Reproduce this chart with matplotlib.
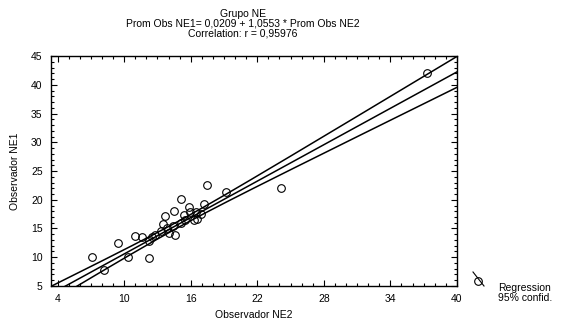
import numpy as np
import matplotlib
matplotlib.use("Agg")
import matplotlib.pyplot as plt
from matplotlib.ticker import MultipleLocator
from matplotlib.lines import Line2D

plt.rcParams['font.family'] = ['Liberation Sans', 'DejaVu Sans']

# data
obs_ne2 = [7.1, 8.2, 9.4, 10.3, 11.0, 11.6, 12.2, 12.2, 12.5, 12.8, 13.3, 13.7,
           13.9, 14.4, 14.5, 14.6, 15.1, 15.1, 15.4, 15.5, 15.8, 15.9, 16.3, 16.6,
           16.9, 17.2, 17.5, 19.2, 24.1, 37.3, 13.5, 14.0, 16.5]
obs_ne1 = [10.1, 7.8, 12.5, 10.1, 13.7, 13.6, 12.9, 9.9, 13.6, 13.9, 14.6, 17.1,
           15.1, 15.5, 18.1, 13.9, 20.2, 16.0, 17.4, 16.5, 18.8, 17.9, 16.4, 16.7,
           17.6, 19.2, 22.5, 21.4, 22.1, 42.1, 15.7, 14.3, 17.9]

intercept = 0.0209
slope = 1.0553

x_ticks = [4, 10, 16, 22, 28, 34, 40]
y_ticks = [5, 10, 15, 20, 25, 30, 35, 40, 45]

x = np.array(obs_ne2)
y = np.array(obs_ne1)

# 95% confidence band of the regression line
n = len(x)
resid = y - (intercept + slope * x)
s = np.sqrt(np.sum(resid ** 2) / (n - 2))
sxx = np.sum((x - x.mean()) ** 2)
xs = np.linspace(3.4, 40, 200)
fit = intercept + slope * xs
half = 1.6 * s * np.sqrt(1.0 / n + (xs - x.mean()) ** 2 / sxx)

fig = plt.figure(figsize=(5.69, 3.27), dpi=100)
ax = fig.add_axes([0.0896, 0.1254, 0.7134, 0.7033])

ax.plot(xs, fit, c='black', lw=1.1)
ax.plot(xs, fit + half, c='black', lw=1.1)
ax.plot(xs, fit - half, c='black', lw=1.1)
ax.plot(x, y, 'o', mfc='none', mec='black', ms=5.5, mew=0.8)

ax.set_xlim(3.4, 40)
ax.set_ylim(5, 45)
ax.set_xticks(x_ticks)
ax.set_yticks(y_ticks)
ax.xaxis.set_minor_locator(MultipleLocator(1))
ax.yaxis.set_minor_locator(MultipleLocator(1))
ax.tick_params(which='both', direction='in', top=True, right=True, labelsize=7.5, width=0.8)
ax.tick_params(which='major', length=4, pad=6)
ax.tick_params(which='minor', length=2.5)
for sp in ax.spines.values():
    sp.set_linewidth(1.0)

ax.set_xlabel('Observador NE2', fontsize=7.5, labelpad=4)
ax.set_ylabel('Observador NE1', fontsize=7.5, labelpad=8)

fig.text(243 / 569, 1 - 9 / 327, 'Grupo NE\nProm Obs NE1= 0,0209 + 1,0553 * Prom Obs NE2\nCorrelation: r = 0,95976',
         ha='center', va='top', fontsize=7.5, linespacing=1.0)

# legend key drawn in figure coordinates
fig.add_artist(Line2D([473 / 569, 484 / 569], [1 - 272 / 327, 1 - 286 / 327],
                      color='black', lw=0.8))
fig.add_artist(Line2D([478 / 569], [1 - 281 / 327], marker='o', mfc='none',
                      mec='black', ms=5.5, mew=0.8))
fig.text(498 / 569, 1 - 293 / 327, 'Regression\n95% confid.', ha='left', va='center',
         fontsize=7.5, linespacing=1.0)

plt.savefig('out.png', dpi=100)
